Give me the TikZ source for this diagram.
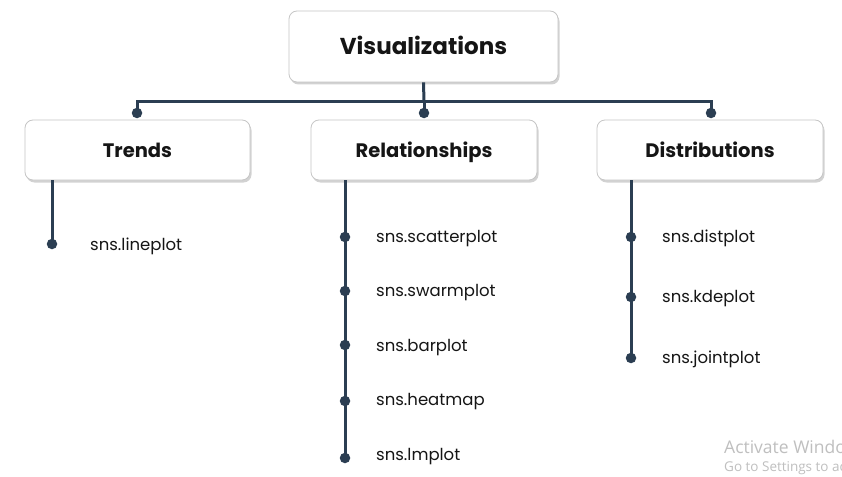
\documentclass[tikz,border=0pt]{standalone}
\usepackage{fontspec}
\setmainfont{Poppins}
\newfontfamily\wmfont{Open Sans}
\usetikzlibrary{shadows}
\definecolor{navy}{HTML}{2B3E52}
\definecolor{txt}{HTML}{151515}
\tikzset{
  x=1pt,y=-1pt,
  box/.style={draw=gray!45, line width=0.8pt, fill=white, rounded corners=8pt,
    drop shadow={shadow xshift=1.5pt, shadow yshift=-2.5pt, opacity=0.35, fill=gray},
    text=txt, font=\bfseries\fontsize{19.5}{22}\selectfont, inner sep=0pt,
    text height=16pt, text depth=2pt},
  dot/.style={circle, fill=navy, inner sep=0pt, minimum size=10.5pt},
  conn/.style={draw=navy, line width=3pt},
  item/.style={anchor=west, text=txt, font=\fontsize{16.5}{19}\selectfont, inner sep=0pt,
    text height=14pt, text depth=2pt},
  wm/.style={anchor=west, text=gray!50, inner sep=0pt}
}
\begin{document}
\begin{tikzpicture}
\useasboundingbox (0,0) rectangle (842,476);
\fill[white] (0,0) rectangle (842,476);
% top box
\node[box, minimum width=269pt, minimum height=71pt, font=\bfseries\fontsize{23}{26}\selectfont, text height=20pt, text depth=3pt] (vis) at (423.5,46.5) {Visualizations};
% children
\node[box, minimum width=225pt, minimum height=60pt] (trends) at (137.5,150) {Trends};
\node[box, minimum width=226pt, minimum height=60pt] (rel) at (424,150) {Relationships};
\node[box, minimum width=226pt, minimum height=60pt] (dist) at (710,150) {Distributions};
% junction
\coordinate (jl) at (137,102);
\coordinate (jm) at (424,102);
\coordinate (jr) at (711,102);
\node[dot] (dt) at (137,113) {};
\node[dot] (dr) at (424,113) {};
\node[dot] (dd) at (711,113) {};
\draw[conn] (vis.south) -- (jm);
\draw[conn] (dt.center) -- (jl) -- (jr) -- (dd.center);
\draw[conn] (jm) -- (dr.center);
% trends branch
\coordinate (ts) at (52,180);
\node[dot] (t1) at (52,244) {};
\draw[conn] (ts) -- (t1.center);
\node[item] (lt1) at (90,244) {sns.lineplot};
% relationships branch
\coordinate (rs) at (345,180);
\node[dot] (r1) at (345,237) {};
\node[dot] (r2) at (345,291) {};
\node[dot] (r3) at (345,345) {};
\node[dot] (r4) at (345,401) {};
\node[dot] (r5) at (345,458) {};
\draw[conn] (rs) -- (r5.center);
\node[item] (lr1) at (376,236) {sns.scatterplot};
\node[item] (lr2) at (376,290) {sns.swarmplot};
\node[item] (lr3) at (376,345) {sns.barplot};
\node[item] (lr4) at (376,399) {sns.heatmap};
\node[item] (lr5) at (376,454) {sns.lmplot};
% distributions branch
\coordinate (ds) at (631,180);
\node[dot] (d1) at (631,237) {};
\node[dot] (d2) at (631,297) {};
\node[dot] (d3) at (631,358) {};
\draw[conn] (ds) -- (d3.center);
\node[item] (ld1) at (662,236) {sns.distplot};
\node[item] (ld2) at (662,296) {sns.kdeplot};
\node[item] (ld3) at (662,357) {sns.jointplot};
% watermark
\node[wm, font=\wmfont\fontsize{17.5}{20}\selectfont] (wm1) at (724,447) {Activate Windows};
\node[wm, font=\wmfont\fontsize{13.5}{15}\selectfont] (wm2) at (724,468) {Go to Settings to activate Windows.};
\end{tikzpicture}
\end{document}
